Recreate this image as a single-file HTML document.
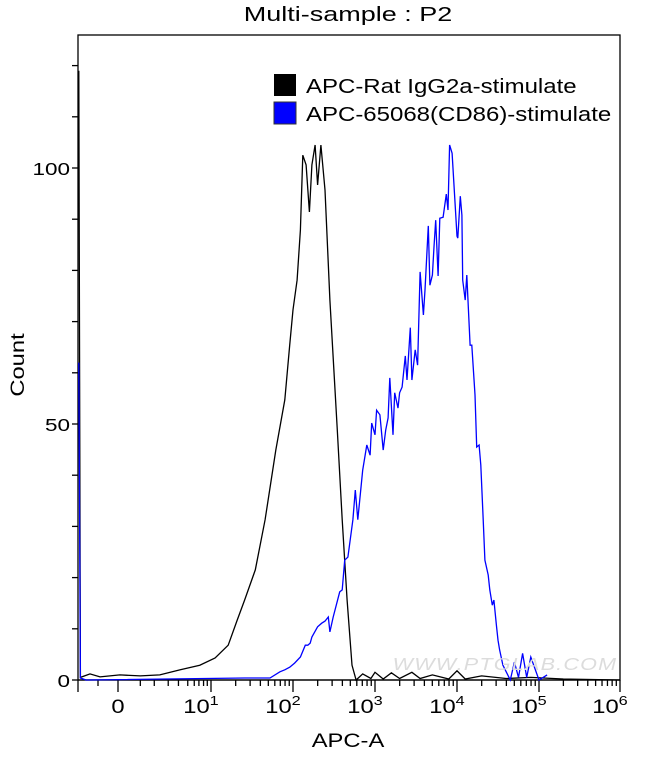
<!DOCTYPE html>
<html><head><meta charset="utf-8"><style>
body{margin:0;background:#fff;}
svg text{font-family:"Liberation Sans",Arial,sans-serif;fill:#000;}
</style></head><body>
<svg id="chart" width="650" height="752" viewBox="0 0 650 752" xmlns="http://www.w3.org/2000/svg">
<text transform="translate(348,21) scale(1.35,1)" font-size="20" text-anchor="middle">Multi-sample : P2</text>
<text transform="translate(24,365) rotate(-90) scale(1.25,1)" font-size="19" text-anchor="middle">Count</text>
<text transform="translate(348,747) scale(1.25,1)" font-size="19" text-anchor="middle">APC-A</text>
<rect x="78" y="35" width="542" height="645" fill="none" stroke="#000" stroke-width="1.3"/>
<g id="axes"></g>
<g id="series"></g>
<text transform="translate(505,670) scale(1.2,1)" font-size="18" text-anchor="middle" style="fill:#dcdcdc;font-style:italic;letter-spacing:1px">WWW.PTGLAB.COM</text>
<g>
<rect x="274" y="74" width="22" height="22" fill="#000"/>
<text transform="translate(306,93) scale(1.2,1)" font-size="20">APC-Rat IgG2a-stimulate</text>
<rect x="274" y="102" width="22" height="22" fill="#0000ff" stroke="#333" stroke-width="1"/>
<text transform="translate(306,121) scale(1.2,1)" font-size="20">APC-65068(CD86)-stimulate</text>
</g>
</svg>
<script>
// data in display decades (0 = value 0, 1 = 10^1, ...) and counts
const blackX=[-0.49,-0.47,-0.35,-0.225,0.02,0.24,0.45,0.67,0.88,1.05,1.21,1.32,1.41,1.54,1.66,1.79,1.90,1.96,2.0,2.05,2.09,2.12,2.16,2.2,2.23,2.27,2.30,2.34,2.39,2.45,2.54,2.60,2.66,2.72,2.77,2.85,2.95,3.0,3.1,3.2,3.3,3.45,3.55,3.7,3.9,4.0,4.1,4.3,4.6,4.9,5.3,6.0];
const blackY=[119,0.5,1.2,0.6,1.0,0.8,1.0,2.0,2.9,4.3,6.8,11.7,15.6,21.5,31.3,44.9,54.7,65.4,72.3,78.1,87.9,102.5,100.6,91.4,100.6,104.5,96.7,104.5,95.7,74.2,48.8,31.3,15.6,2.9,0,1.2,0.3,1.5,0.2,1.4,0.3,1.5,0.3,1.0,0.2,1.8,0.2,0.8,0.3,0.5,0.2,0];
const blueX=[-0.49,-0.47,-0.4,1.41,1.72,1.84,1.90,1.96,2.02,2.09,2.15,2.18,2.21,2.23,2.30,2.35,2.39,2.43,2.45,2.49,2.57,2.60,2.63,2.67,2.73,2.76,2.79,2.85,2.90,2.94,2.96,3.0,3.02,3.06,3.10,3.13,3.16,3.18,3.22,3.24,3.28,3.30,3.33,3.37,3.39,3.43,3.45,3.49,3.52,3.55,3.59,3.61,3.65,3.67,3.70,3.72,3.74,3.77,3.79,3.83,3.87,3.89,3.91,3.94,3.98,4.0,4.01,4.04,4.06,4.07,4.10,4.12,4.16,4.18,4.22,4.24,4.27,4.29,4.32,4.34,4.38,4.40,4.43,4.45,4.48,4.50,4.52,4.56,4.60,4.65,4.7,4.75,4.8,4.85,4.9,5.0,5.1];
const blueY=[62,0.4,0,0.4,0.4,1.6,2.0,2.5,3.3,4.5,6.8,6.8,7.2,8.4,10.4,11.1,11.5,12.3,9.4,12.3,17.2,17.6,23.4,24.0,31.3,37.1,31.3,41.0,45.9,43.9,50.2,47.9,52.7,51.8,44.9,48.8,51.2,59.0,47.9,56.1,53.1,56.1,57.2,63.3,58.6,68.8,58.6,64.5,61.5,79.7,71.3,76.2,88.7,77.1,79.1,84.6,89.8,78.9,90.2,90.4,94.9,91.8,104.5,102.9,92.0,86.7,86.3,94.5,90.8,78.1,74.2,79.1,65.4,65.4,55.7,45.5,45.9,42.0,31.3,23.4,20.5,17.6,14.6,15.6,10.7,7.8,5.9,2.9,1.6,0,3.5,0.5,5.2,0.5,4.5,0,1.0];
const yTicks=[0,50,100];
const xTickLabels=["0","1","2","3","4","5","6"];

const PL=78,PR=620,PT=35,PB=680;
const dKeys=[-0.5,0,1,2,3,4,5,6], pxKeys=[78,118,211,293,375,457,539,620];
function xs(d){for(let i=0;i<dKeys.length-1;i++){if(d<=dKeys[i+1]||i==dKeys.length-2){return pxKeys[i]+(d-dKeys[i])/(dKeys[i+1]-dKeys[i])*(pxKeys[i+1]-pxKeys[i]);}}}
function ys(c){return PB-c*5.12;}
const NS="http://www.w3.org/2000/svg";
const axes=document.getElementById('axes'), ser=document.getElementById('series');
function line(x1,y1,x2,y2,name){const l=document.createElementNS(NS,'line');l.setAttribute('x1',x1);l.setAttribute('y1',y1);l.setAttribute('x2',x2);l.setAttribute('y2',y2);l.setAttribute('stroke','#000');l.setAttribute('stroke-width','1.3');


axes.appendChild(l);}
for(let c=0;c<=120;c+=10){line(PL-6,ys(c),PL,ys(c),'y-tick');}
yTicks.forEach(v=>{const t=document.createElementNS(NS,'text');t.setAttribute('transform','translate('+(PL-8)+','+(ys(v)+7)+') scale(1.25,1)');t.setAttribute('font-size','18');t.setAttribute('text-anchor','end');t.textContent=v;


axes.appendChild(t);});
line(PL,PB,PL,PB+12,'x-tick');
line(xs(-0.25),PB,xs(-0.25),PB+6,'x-tick');
const linFr=[0.24,0.39,0.54,0.65,0.75,0.82,0.87,0.92,0.96];
linFr.forEach(f=>line(xs(f),PB,xs(f),PB+6,'x-minor-tick'));
for(let dec=1;dec<6;dec++){for(let m=2;m<=9;m++){const d=dec+Math.log10(m);line(xs(d),PB,xs(d),PB+6,'x-minor-tick');}}
xTickLabels.forEach((lab,i)=>{const d=i;line(xs(d),PB,xs(d),PB+12,'x-major-tick');
const t=document.createElementNS(NS,'text');t.setAttribute('font-size','19');


if(lab==="0"){t.setAttribute('transform','translate('+xs(d)+','+(PB+33)+') scale(1.25,1)');t.setAttribute('text-anchor','middle');t.textContent='0';}
else{t.setAttribute('transform','translate('+(xs(d)-10)+','+(PB+33)+') scale(1.25,1)');t.setAttribute('text-anchor','middle');t.textContent='10';const s=document.createElementNS(NS,'tspan');s.setAttribute('dy','-8');s.setAttribute('font-size','13');s.textContent=lab;t.appendChild(s);}
axes.appendChild(t);});
function path(X,Y,color,name){let d='';X.forEach((x,i)=>{d+=(i?'L':'M')+xs(x).toFixed(1)+' '+ys(Y[i]).toFixed(1);});
const p=document.createElementNS(NS,'path');p.setAttribute('d',d);p.setAttribute('fill','none');p.setAttribute('stroke',color);p.setAttribute('stroke-width','1.3');


ser.appendChild(p);}
path(blackX,blackY,'#000','isotype-histogram');
path(blueX,blueY,'#0000ff','cd86-histogram');
line(PL,PB,PR,PB,'x-axis-line');
</script>
</body></html>
